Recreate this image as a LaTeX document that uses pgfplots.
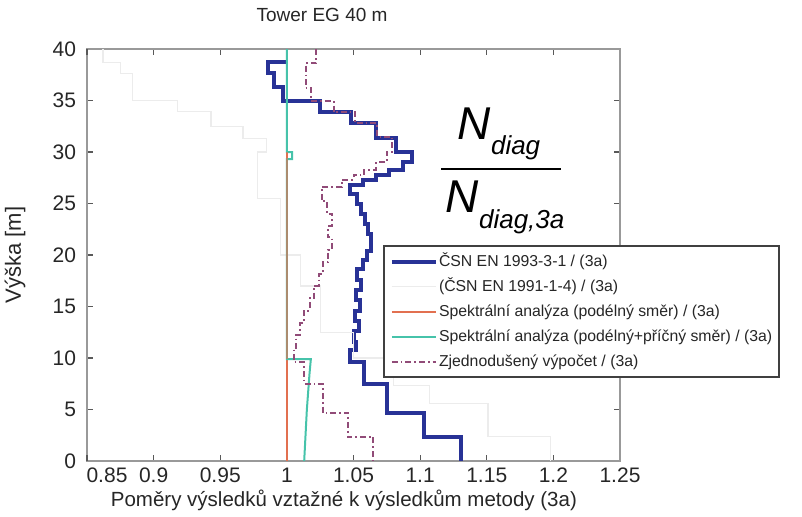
\documentclass[border=0pt]{standalone}
\usepackage{fontspec}
\setmainfont{Liberation Sans}
\usepackage{pgfplots}
\pgfplotsset{compat=1.18}
\definecolor{cblue}{RGB}{40,50,150}
\definecolor{cgrey}{RGB}{236,236,236}
\definecolor{cred}{RGB}{226,112,80}
\definecolor{cteal}{RGB}{70,195,170}
\definecolor{cpink}{RGB}{145,75,120}
\begin{document}
\begin{tikzpicture}
\path[use as bounding box] (-43.5pt,-27.5pt) rectangle (357.5pt,230.5pt);
\begin{axis}[
  at={(0pt,0pt)}, anchor=south west,
  scale only axis, width=266.5pt, height=206pt,
  xmin=0.85, xmax=1.25, ymin=0, ymax=40,
  clip=false,
  xtick={0.9,0.95,1,1.05,1.1,1.15,1.2,1.25},
  xticklabels={0.9,0.95,1,1.05,1.1,1.15,1.2,1.25},
  extra x ticks={0.85}, extra x tick labels={0.85},
  extra x tick style={xticklabel style={xshift=10pt}},
  ytick={0,5,10,15,20,25,30,35,40},
  yticklabels={0,5,10,15,20,25,30,35,40},
  tick align=inside, major tick length=3pt,
  tick style={black!65, line width=0.6pt},
  axis line style={black!40, line width=1.1pt},
  ticklabel style={font=\fontsize{10.5}{12}\selectfont, text=black!85},
  yticklabel style={xshift=-2pt},
  every axis title shift=0pt,
  title={Tower EG 40 m},
  title style={at={(axis description cs:0.441,1.0825)}, anchor=center, yshift=0pt, font=\fontsize{9.5}{11}\selectfont, text=black!85},
  xlabel={Poměry výsledků vztažné k výsledkům metody (3a)},
  xlabel style={at={(axis description cs:0.482,-0.095)}, anchor=center, font=\fontsize{10.25}{12}\selectfont, text=black!85},
  ylabel={Výška [m]},
  ylabel style={at={(axis description cs:-0.135,0.5)}, anchor=center, font=\fontsize{11}{12}\selectfont, text=black!85},
  legend style={at={(axis description cs:0.555,0.524)}, anchor=north west,
    draw=black!75, line width=1pt, fill=white,
    font=\fontsize{7.9}{9}\selectfont, text=black!85,
    inner sep=3pt, row sep=3pt,
    nodes={inner sep=0.6pt, text height=6.5pt, text depth=1.8pt, anchor=west}},
  legend cell align=left,
  legend image code/.code={\draw[#1] (0pt,0pt) -- (22pt,0pt);},
]
% CSN EN 1993-3-1
\addplot[cblue, line width=2pt] coordinates {
(1.0,38.7) (0.986,38.7) (0.986,37.7) (0.99,37.7) (0.99,36.3) (0.997,36.3) (0.997,35)
(1.025,35) (1.025,33.9) (1.048,33.9) (1.048,32.8) (1.067,32.8) (1.067,31.4)
(1.082,31.4) (1.082,30) (1.094,30) (1.094,29) (1.087,29) (1.087,28.3) (1.077,28.3)
(1.077,27.8) (1.067,27.8) (1.067,27.3) (1.057,27.3) (1.057,26.8) (1.047,26.8)
(1.047,25.9) (1.053,25.9) (1.053,25.0) (1.056,25.0) (1.056,24.0) (1.059,24.0)
(1.059,23.0) (1.061,23.0) (1.061,22.0) (1.063,22.0) (1.063,20.4) (1.060,20.4)
(1.060,19.5) (1.057,19.5) (1.057,18.6) (1.053,18.6) (1.053,17.6) (1.056,17.6)
(1.056,16.6) (1.052,16.6) (1.052,15.6) (1.055,15.6) (1.055,14.6) (1.051,14.6)
(1.051,13.6) (1.054,13.6) (1.054,12.6) (1.05,12.6) (1.05,11.6) (1.052,11.6)
(1.052,10.8) (1.047,10.8) (1.047,9.6) (1.058,9.6) (1.058,7.5) (1.075,7.5)
(1.075,4.7) (1.103,4.7) (1.103,2.3) (1.131,2.3) (1.131,0)
};
\addlegendentry{ČSN EN 1993-3-1 / (3a)}
% CSN EN 1991-1-4
\addplot[cgrey, line width=0.6pt] coordinates {
(0.862,40) (0.862,38.7) (0.875,38.7) (0.875,37.6) (0.884,37.6) (0.884,35)
(0.918,35) (0.918,33.9) (0.943,33.9) (0.943,32.5) (0.967,32.5) (0.967,31.3)
(0.985,31.3) (0.985,30) (0.978,30) (0.978,25.5) (0.995,25.5) (0.995,20)
(1.01,20) (1.01,17) (1.025,17) (1.025,12.5) (1.05,12.5) (1.05,10) (1.08,10)
(1.08,7.3) (1.107,7.3) (1.107,5.6) (1.151,5.6) (1.151,2.4) (1.198,2.4) (1.198,0)
};
\addlegendentry{(ČSN EN 1991-1-4) / (3a)}
% Spektralni analyza (podelny smer)
\addplot[cred, line width=1pt] coordinates {(1.0,0) (1.0,30)};
\addlegendentry{Spektrální analýza (podélný směr) / (3a)}
% Spektralni analyza (podelny+pricny smer)
\addplot[cteal, line width=1pt] coordinates {
(1.0,40) (1.0,30) (1.004,30) (1.004,29.3) (1.0,29.3) (1.0,9.9) (1.018,9.9)
(1.017,8.5) (1.015,5) (1.013,0)
};
\addlegendentry{Spektrální analýza (podélný+příčný směr) / (3a)}
\addplot[cred, line width=1pt, opacity=0.65, forget plot] coordinates {(1.0,9.9) (1.0,30)};
% Zjednoduseny vypocet
\addplot[cpink, line width=1pt, dash pattern=on 3pt off 1.5pt on 0.8pt off 1.5pt] coordinates {
(1.022,40) (1.022,38.6) (1.014,38.6) (1.014,36.2) (1.018,36.2) (1.018,35)
(1.035,35) (1.035,33.9) (1.051,33.9) (1.051,32.8) (1.068,32.8) (1.068,31.5)
(1.079,31.5) (1.079,30) (1.075,30) (1.075,29) (1.067,29) (1.067,28.3)
(1.058,28.3) (1.058,27.8) (1.05,27.8) (1.05,27.3) (1.041,27.3) (1.041,26.6)
(1.026,26.6) (1.026,25.2) (1.03,25.2) (1.03,24) (1.034,24) (1.034,22.8)
(1.031,22.8) (1.031,21.7) (1.034,21.7) (1.034,20.5) (1.031,20.5) (1.031,19.3)
(1.027,19.3) (1.027,18.2) (1.024,18.2) (1.024,17.0) (1.02,17) (1.02,15.8)
(1.017,15.8) (1.017,14.6) (1.013,14.6) (1.013,13.4) (1.01,13.4) (1.01,12.2)
(1.007,12.2) (1.007,11) (1.005,11) (1.005,9.6) (1.013,9.6) (1.013,7.5)
(1.027,7.5) (1.027,4.7) (1.046,4.7) (1.046,2.3) (1.065,2.3) (1.065,0)
};
\addlegendentry{Zjednodušený výpočet / (3a)}
% annotation
\node[anchor=base west, inner sep=0pt, font=\itshape] at (axis cs:1.128,31.17)
  {\fontsize{23}{23}\selectfont N\raisebox{-7.5pt}{\fontsize{13}{13}\selectfont diag}};
\node[anchor=base west, inner sep=0pt, font=\itshape] at (axis cs:1.119,24.17)
  {\fontsize{23}{23}\selectfont N\raisebox{-8pt}{\fontsize{13}{13}\selectfont diag,3a}};
\draw[line width=0.7pt] (axis cs:1.1157,28.35) -- (axis cs:1.206,28.35);
\end{axis}
\end{tikzpicture}
\end{document}
